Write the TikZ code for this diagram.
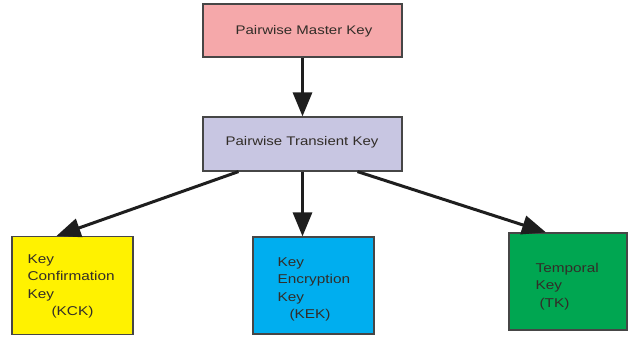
\documentclass[tikz,border=0pt]{standalone}
\usepackage{fontspec}
\setmainfont{Liberation Sans}
\usetikzlibrary{arrows.meta}
\definecolor{pmkfill}{RGB}{245,168,170}
\definecolor{ptkfill}{RGB}{200,198,226}
\definecolor{kckfill}{RGB}{255,242,0}
\definecolor{kekfill}{RGB}{0,174,239}
\definecolor{tkfill}{RGB}{0,166,81}
\definecolor{edge}{RGB}{70,70,70}
\definecolor{txt}{RGB}{50,45,40}
\definecolor{arr}{RGB}{30,30,30}
\newcommand{\wide}[1]{\scalebox{1.2}[1]{#1}}
\begin{document}
\begin{tikzpicture}[x=1pt,y=1pt,
  keybox/.style={draw=edge, line width=1.2pt, inner sep=0pt},
  keytext/.style={text=txt, font=\fontsize{12.8}{17.5}\selectfont, align=left, inner sep=0pt, anchor=west},
  toptext/.style={text=txt, font=\fontsize{12.5}{15}\selectfont},
  link/.style={draw=arr, line width=3pt, -{Triangle[length=24pt,width=19pt]}}]
\useasboundingbox (0,0) rectangle (628,-338);
\node[keybox, fill=pmkfill, minimum width=199pt, minimum height=53pt] (pmk) at (302.5,-30.5) {};
\node[toptext] (pmkt) at (304,-31) {\wide{Pairwise Master Key}};
\node[keybox, fill=ptkfill, minimum width=199pt, minimum height=54pt] (ptk) at (302.5,-144) {};
\node[toptext] (ptkt) at (302,-142) {\wide{Pairwise Transient Key}};
\node[keybox, fill=kckfill, minimum width=121pt, minimum height=98pt] (kck) at (72.5,-285.5) {};
\node[keytext] (kckt) at ([xshift=16pt,yshift=-1pt]kck.west) {\wide{Key}\\\wide{Confirmation}\\\wide{Key}\\\hspace{24pt}\wide{(KCK)}};
\node[keybox, fill=kekfill, minimum width=121pt, minimum height=97pt] (kek) at (313.5,-285.5) {};
\node[keytext] (kekt) at ([xshift=25pt,yshift=-4pt]kek.west) {\wide{Key}\\\wide{Encryption}\\\wide{Key}\\\hspace{12pt}\wide{(KEK)}};
\node[keybox, fill=tkfill, minimum width=118pt, minimum height=97pt] (tk) at (568,-281.5) {};
\node[keytext] (tkt) at ([xshift=27pt,yshift=-5pt]tk.west) {\wide{Temporal}\\\wide{Key}\\\hspace{4pt}\wide{(TK)}};
\draw[link] (pmk.south) -- (ptk.north);
\draw[link] ([xshift=-64pt]ptk.south) -- ([xshift=-16pt]kck.north);
\draw[link] (ptk.south) -- (ptk.south |- kek.north);
\draw[link] ([xshift=55pt]ptk.south) -- ([xshift=-22pt]tk.north);
\end{tikzpicture}
\end{document}
